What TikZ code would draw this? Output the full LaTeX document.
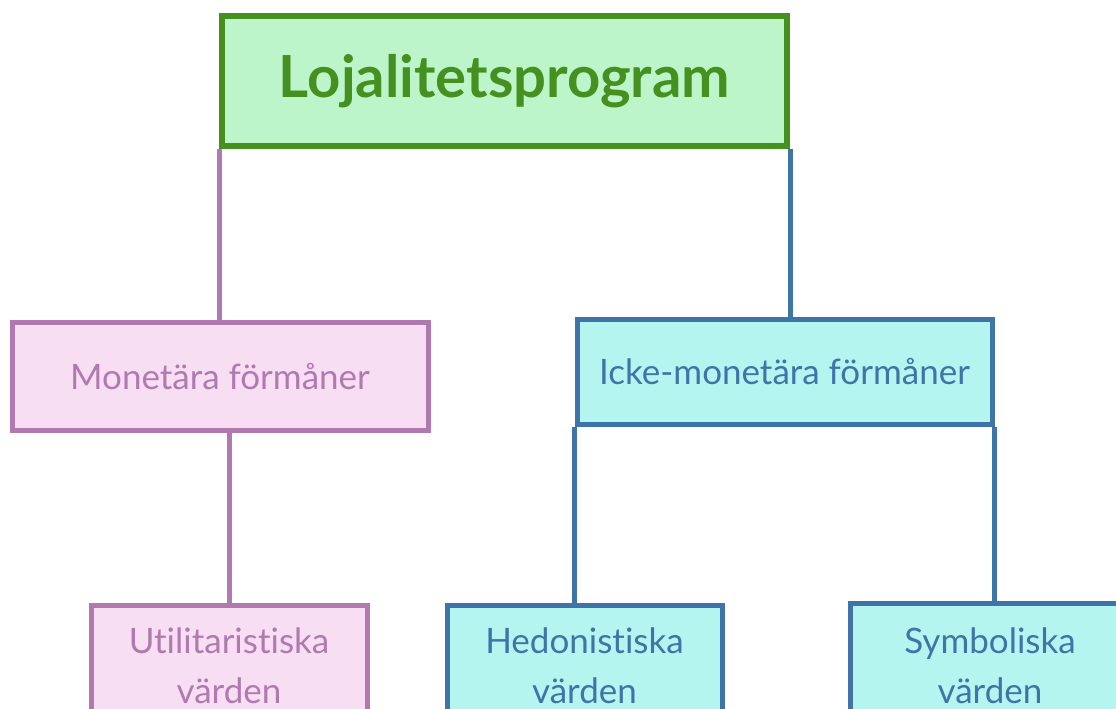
\documentclass[tikz,border=0pt]{standalone}
\usepackage{fontspec}
\setmainfont{Lato}[Ligatures=NoCommon]
\definecolor{grnfill}{HTML}{BDF5CB}
\definecolor{grnline}{HTML}{45901F}
\definecolor{pnkfill}{HTML}{F8DEF3}
\definecolor{pnkline}{HTML}{B07AB0}
\definecolor{blufill}{HTML}{B5F5F0}
\definecolor{bluline}{HTML}{3E74A8}

\tikzstyle{topbox}=[rectangle, draw=grnline, fill=grnfill, text=grnline, line width=6pt, minimum width=565pt, minimum height=130pt, font=\fontsize{58}{66}\selectfont\bfseries]
\tikzstyle{pnkbox}=[rectangle, draw=pnkline, fill=pnkfill, text=pnkline, line width=5pt, align=center, font=\fontsize{35}{50}\selectfont]
\tikzstyle{blubox}=[rectangle, draw=bluline, fill=blufill, text=bluline, line width=5pt, align=center, font=\fontsize{35}{50}\selectfont]

\begin{document}
\begin{tikzpicture}[x=1pt, y=-1pt]
\clip (0,0) rectangle (1116,709);
\fill[white] (0,0) rectangle (1116,709);

\node[topbox](prog) at (504.5, 81) {Lojalitetsprogram};
\node[pnkbox, minimum width=416pt, minimum height=108pt](mon) at (220, 376) {Monetära förmåner};
\node[blubox, minimum width=415pt, minimum height=105pt](icke) at (784.5, 371.5) {Icke-monetära förmåner};
\node[pnkbox, minimum width=276pt, minimum height=122pt](util) at (229, 666) {Utilitaristiska\\värden};
\node[blubox, minimum width=275pt, minimum height=122pt](hedo) at (584.5, 666) {Hedonistiska\\värden};
\node[blubox, minimum width=280pt, minimum height=126pt](symb) at (990, 666) {Symboliska\\värden};

\begin{scope}[every path/.style={-, line width=5pt}]
       \draw[pnkline] (prog.south west) -- (prog.south west |- mon.north);
       \draw[bluline] (prog.south east) -- (prog.south east |- icke.north);
       \draw[pnkline] (util.north) -- (util.north |- mon.south);
       \draw[bluline] (icke.south west) -- (icke.south west |- hedo.north);
       \draw[bluline] (icke.south east) -- (icke.south east |- symb.north);
\end{scope}
\end{tikzpicture}
\end{document}
